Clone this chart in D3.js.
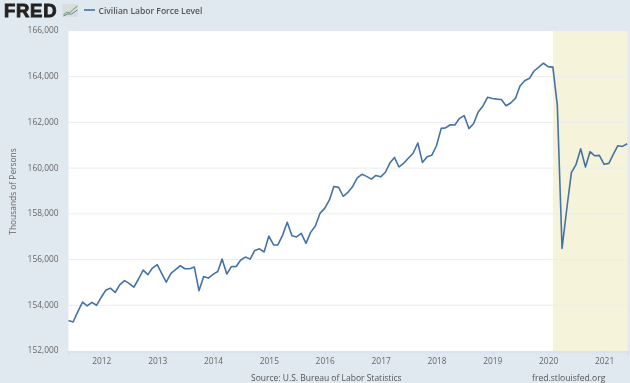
<!DOCTYPE html>
<html>
<head>
<meta charset="utf-8">
<script src="https://cdnjs.cloudflare.com/ajax/libs/d3/7.8.5/d3.min.js"></script>
<style>
html,body{margin:0;padding:0;background:#e1e9f0;overflow:hidden}
svg{display:block;filter:blur(0.4px)}
text{font-family:"Open Sans",sans-serif}
</style>
</head>
<body>
<svg id="chart" width="630" height="383"></svg>
<script>
const seriesName = "Civilian Labor Force Level";
const startMonth = new Date(Date.UTC(2011, 5, 1));
const laborForce = [
153330,153270,153720,154140,153970,154130,154000,
154350,154670,154750,154560,154890,155080,154960,154790,155150,155540,155340,155630,
155780,155370,155010,155400,155560,155730,155600,155600,155670,154640,155260,155190,
155350,155480,156020,155370,155690,155700,155980,156110,156020,156400,156470,156330,
157030,156640,156640,157070,157630,157040,156990,157150,156710,157190,157470,158020,
158240,158610,159200,159160,158770,158940,159190,159570,159730,159640,159520,159680,
159620,159820,160210,160470,160050,160220,160430,160650,161100,160250,160500,160560,
160980,161740,161760,161900,161890,162180,162300,161730,161950,162460,162720,163100,
163050,163020,163000,162730,162850,163050,163590,163820,163930,164250,164420,164590,
164440,164420,162760,156490,158170,159800,160150,160850,160050,160720,160540,160560,
160170,160210,160590,160980,160950,161070];
const yTicks = [152000,154000,156000,158000,160000,162000,164000,166000];
const xTickYears = [2012,2013,2014,2015,2016,2017,2018,2019,2020,2021];
const recessionStart = new Date(Date.UTC(2020, 1, 1));
const yAxisTitle = "Thousands of Persons";
const sourceText = "Source: U.S. Bureau of Labor Statistics";
const siteText = "fred.stlouisfed.org";

const dates = laborForce.map((_, i) => d3.utcMonth.offset(startMonth, i));
const plotLeft = 68.5, plotRight = 627.2, plotTop = 31, plotBottom = 351;
const x = d3.scaleUtc().domain([dates[0], dates[dates.length - 1]]).range([plotLeft, plotRight]);
const y = d3.scaleLinear().domain([152000, 166000]).range([plotBottom, plotTop]);
const svg = d3.select("#chart");

svg.append("rect").attr("width", 630).attr("height", 383).attr("fill", "#e1e9f0");
svg.append("rect").attr("x", plotLeft).attr("y", plotTop).attr("width", plotRight - plotLeft).attr("height", plotBottom - plotTop).attr("fill", "#fff");
svg.append("rect").attr("x", x(recessionStart)).attr("y", plotTop).attr("width", plotRight - x(recessionStart)).attr("height", plotBottom - plotTop).attr("fill", "#f5f3d9");

const yAxis = d3.axisLeft(y).tickValues(yTicks).tickFormat(d3.format(",")).tickSize(0).tickPadding(10);
const gy = svg.append("g").attr("transform", `translate(${plotLeft},0)`).call(yAxis);
gy.select(".domain").remove();
gy.selectAll("text").attr("font-size", 8.4).attr("fill", "#666").attr("dy", "0.22em");

const grid = svg.append("g").attr("stroke", "#ececf0").attr("stroke-width", 1);
grid.selectAll("line").data(yTicks.filter(d => d > 152000 && d < 166000)).join("line")
  .attr("x1", plotLeft).attr("x2", plotRight).attr("y1", d => y(d)).attr("y2", d => y(d));

const xAxis = d3.axisBottom(x).tickValues(xTickYears.map(v => new Date(Date.UTC(v, 0, 1))))
  .tickFormat(d3.utcFormat("%Y")).tickSize(4).tickPadding(3);
const gx = svg.append("g").attr("transform", `translate(0,${plotBottom + 0.5})`).call(xAxis);
gx.select(".domain").attr("stroke", "#d3dcec").attr("stroke-width", 1.2);
gx.selectAll("line").attr("stroke", "#d3dcec");
gx.selectAll("text").attr("font-size", 8.4).attr("fill", "#666");

const line = d3.line().x((d, i) => x(dates[i])).y(d => y(d)).curve(d3.curveLinear);
svg.append("path").datum(laborForce).attr("d", line).attr("fill", "none")
  .attr("stroke", "#4572a7").attr("stroke-width", 1.6).attr("stroke-linejoin", "round");

svg.append("text").attr("transform", "translate(15.5,191.5) rotate(-90)").attr("text-anchor", "middle")
  .attr("font-size", 8.4).attr("fill", "#666").text(yAxisTitle);

svg.append("text").attr("x", 251).attr("y", 380.5).attr("font-size", 8.5).attr("fill", "#555").text(sourceText);
svg.append("text").attr("x", 532).attr("y", 380.5).attr("font-size", 8.6).attr("fill", "#555").text(siteText);

// header: logo and legend
svg.append("text").attr("x", 4).attr("y", 17).attr("font-size", 18.5).attr("font-weight", 700)
  .attr("fill", "#222").attr("stroke", "#222").attr("stroke-width", 0.9)
  .style("font-family", '"Liberation Sans",sans-serif').attr("textLength", 52.5).text("FRED");
const icon = svg.append("g").attr("transform", "translate(62.5,4)");
icon.append("rect").attr("width", 15.5).attr("height", 13).attr("fill", "#d8dde0");
icon.append("polyline").attr("points", "1,11 4,8 7,9 10,6 15,2").attr("fill", "none").attr("stroke", "#6f9a4f").attr("stroke-width", 1);
icon.append("polyline").attr("points", "1,12 5,10 9,10 12,8 15,6").attr("fill", "none").attr("stroke", "#5a82ad").attr("stroke-width", 1);
svg.append("line").attr("x1", 84).attr("x2", 95).attr("y1", 10).attr("y2", 10).attr("stroke", "#4572a7").attr("stroke-width", 1.6);
svg.append("text").attr("x", 98.5).attr("y", 13.5).attr("font-size", 8.5).attr("font-weight", 600).attr("fill", "#555").text(seriesName);
</script>
</body>
</html>
